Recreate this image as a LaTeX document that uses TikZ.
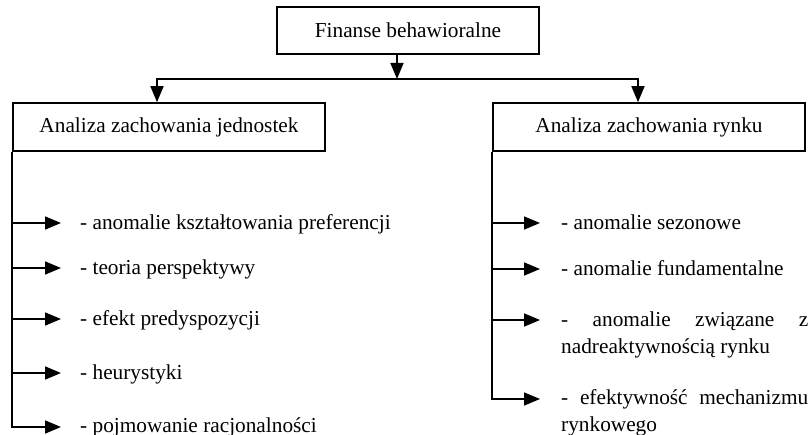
\documentclass[tikz,border=0pt]{standalone}
\usepackage{fontspec}
\setmainfont{Liberation Serif}
\usetikzlibrary{arrows.meta}
\newcommand\fsz{\fontsize{21.3}{27}\selectfont}
\hyphenpenalty=10000
\exhyphenpenalty=10000
\tolerance=10000
\begin{document}
\begin{tikzpicture}[x=1pt,y=-1pt,
  arr/.style={line width=1.6pt, -{Triangle[length=16pt,width=13pt]}},
  box/.style={draw, line width=1.6pt, minimum height=48pt, inner sep=0pt, font=\fsz},
  litem/.style={anchor=north west, inner sep=0pt, font=\fsz},
  ritem/.style={anchor=north west, inner sep=0pt, text width=247pt, align=justify, font=\fsz}]
\useasboundingbox (0,0) rectangle (811,435);

% boxes
\node[box, minimum width=262pt, minimum height=47pt] (top) at (408,30.5) {Finanse behawioralne};
\node[box, minimum width=312pt] (lbox) at (169,127) {Analiza zachowania jednostek};
\node[box, minimum width=312pt] (rbox) at (649,127) {Analiza zachowania rynku};

% top connectors
\coordinate (tb) at ([xshift=-11pt]top.south);
\coordinate (j) at (397,79);
\draw[arr] (tb) -- (j);
\draw[arr] (j) -| ([xshift=-12pt]lbox.north);
\draw[arr] (j) -| ([xshift=-11pt]rbox.north);

% left items
\node[litem] (l1) at (80,210) {\strut- anomalie kształtowania preferencji};
\node[litem] (l2) at (80,255) {\strut- teoria perspektywy};
\node[litem] (l3) at (80,306) {\strut- efekt predyspozycji};
\node[litem] (l4) at (80,360) {\strut- heurystyki};
\node[litem] (l5) at (80,413) {\strut- pojmowanie racjonalności};

\coordinate (la1) at (lbox.south west |- 0,223);
\coordinate (la2) at (lbox.south west |- 0,268);
\coordinate (la3) at (lbox.south west |- 0,319);
\coordinate (la4) at (lbox.south west |- 0,373);
\coordinate (la5) at (lbox.south west |- 0,427);

\draw[arr, shorten >=19pt] (lbox.south west) -- (la5) -- (la5 -| l5.west);
\foreach \i in {1,2,3,4}
  \draw[arr, shorten >=19pt] (la\i) -- (la\i -| l\i.west);

% right items
\node[ritem] (r1) at (561,210) {\strut- anomalie sezonowe};
\node[ritem] (r2) at (561,256) {\strut- anomalie fundamentalne};
\node[ritem] (r3) at (561,307) {\strut- anomalie związane z nadreaktywnością rynku};
\node[ritem] (r4) at (561,385) {\strut- efektywność mechanizmu rynkowego};

\coordinate (ra1) at (rbox.south west |- 0,223);
\coordinate (ra2) at (rbox.south west |- 0,269);
\coordinate (ra3) at (rbox.south west |- 0,320);
\coordinate (ra4) at (rbox.south west |- 0,399);

\draw[arr, shorten >=21pt] (rbox.south west) -- (ra4) -- (ra4 -| r4.west);
\foreach \i in {1,2,3}
  \draw[arr, shorten >=21pt] (ra\i) -- (ra\i -| r\i.west);
\end{tikzpicture}
\end{document}
